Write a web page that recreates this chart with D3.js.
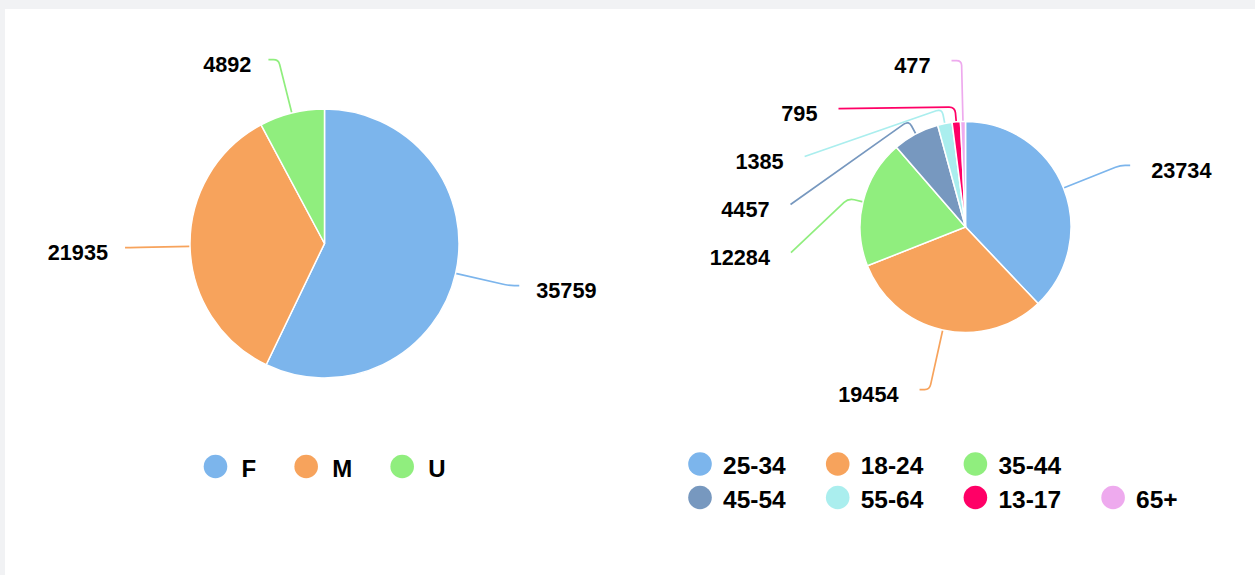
<!DOCTYPE html>
<html>
<head>
<meta charset="utf-8">
<script src="https://cdn.jsdelivr.net/npm/d3@7"></script>
<style>
  body { margin: 0; background: #f1f2f4; overflow: hidden; }
  svg { display: block; }
  text { font-family: "Liberation Sans", Arial, sans-serif; font-weight: bold; fill: #000; }
</style>
</head>
<body>
<div id="myDataVis"></div>
<script>
// gender split
let genderLabels = ["F", "M", "U"];
let genderValues = [35759, 21935, 4892];

// age split
let ageLabels = ["25-34", "18-24", "35-44", "45-54", "55-64", "13-17", "65+"];
let ageValues = [23734, 19454, 12284, 4457, 1385, 795, 477];

let genderColors = ["#7cb5ec", "#f7a35c", "#90ee7e"];
let ageColors = ["#7cb5ec", "#f7a35c", "#90ee7e", "#7798bf", "#aaeeee", "#ff0066", "#eeaaee"];

let width = 1255;
let height = 575;
let svg;

document.addEventListener('DOMContentLoaded', function () {
    svg = d3.select("#myDataVis").append("svg").attr("width", width).attr("height", height);

    // page background + white card
    svg.append("rect").attr("width", width).attr("height", height).attr("fill", "#f1f2f4");
    svg.append("rect").attr("x", 5).attr("y", 9).attr("width", width - 5).attr("height", height - 9).attr("fill", "#fff");

    drawPie({labels: genderLabels, values: genderValues, colors: genderColors,
             cx: 324.5, cy: 243.5, r: 134.5, len1: 55, stub: 15, len2: 10, gap: 48, textGap: 17});
    drawPie({labels: ageLabels, values: ageValues, colors: ageColors,
             cx: 965.5, cy: 227, r: 105.5, len1: 61, stub: 15, len2: 10, gap: 48, textGap: 21});

    drawRowLegend(genderLabels, genderColors, 324.5, 466.5);
    drawGridLegend(ageLabels, ageColors, 700, 464, 137.7, 33.5, 3);
});

function drawPie(cfg) {
    let color = d3.scaleOrdinal().domain(cfg.labels).range(cfg.colors);
    let rows = cfg.labels.map(function(l, i) { return {label: l, value: cfg.values[i]}; });
    let arcs = d3.pie().sort(null).value(function(d) { return d.value; })(rows);
    let arc = d3.arc().innerRadius(0).outerRadius(cfg.r);

    let g = svg.append("g");

    let items = layoutLabels(arcs, cfg);

    g.selectAll(".connector")
        .data(items)
        .enter().append("path")
        .attr("class", "connector")
        .attr("d", function(d) { return connectorPath(d.points); })
        .attr("fill", "none")
        .attr("stroke", function(d) { return color(d.label); })
        .attr("stroke-width", 1.7);

    g.append("g").attr("transform", `translate(${cfg.cx}, ${cfg.cy})`)
        .selectAll("path")
        .data(arcs)
        .enter().append("path")
        .attr("d", arc)
        .attr("fill", function(d) { return color(d.data.label); })
        .attr("stroke", "#fff")
        .attr("stroke-width", 1.5);

    g.selectAll(".lbl")
        .data(items)
        .enter().append("text")
        .attr("class", "lbl")
        .attr("x", function(d) { return d.textX; })
        .attr("y", function(d) { return d.y + 12.5; })
        .attr("text-anchor", function(d) { return d.side > 0 ? "start" : "end"; })
        .style("font-size", "21.7px")
        .text(function(d) { return d.value; });
}

// place labels on a circle around the pie and push overlapping ones down
function layoutLabels(arcs, cfg) {
    let R = cfg.r + cfg.len1;
    let items = arcs.map(function(d) {
        let mid = (d.startAngle + d.endAngle) / 2;
        return {label: d.data.label, value: d.data.value, mid: mid,
                side: Math.sin(mid) >= 0 ? 1 : -1,
                y0: cfg.cy - R * Math.cos(mid)};
    });
    [1, -1].forEach(function(side) {
        let list = items.filter(function(d) { return d.side == side; })
                        .sort(function(a, b) { return a.y0 - b.y0; });
        let prev = -Infinity;
        list.forEach(function(d) {
            d.y = Math.max(d.y0, prev + cfg.gap);
            prev = d.y;
        });
    });
    items.forEach(function(d) {
        let p0 = [cfg.cx + cfg.r * Math.sin(d.mid), cfg.cy - cfg.r * Math.cos(d.mid)];
        let shifted = d.y - d.y0 > 1;
        let dy = d.y - cfg.cy;
        let dx = Math.sqrt(Math.max(0, R * R - dy * dy));
        let p2 = [cfg.cx + d.side * (dx + cfg.len2), d.y];
        let rr = shifted ? cfg.r + cfg.stub : R;
        let p1 = [cfg.cx + rr * Math.sin(d.mid), shifted ? cfg.cy - rr * Math.cos(d.mid) : d.y];
        d.points = [p0, p1, p2];
        d.textX = p2[0] + d.side * cfg.textGap;
    });
    return items;
}

function connectorPath(pts) {
    let a = pts[0], b = pts[1], c = pts[2];
    let l1 = Math.hypot(b[0] - a[0], b[1] - a[1]) || 1;
    let l2 = Math.hypot(c[0] - b[0], c[1] - b[1]) || 1;
    let k = Math.min(6, l1 / 2, l2 / 2);
    let s = [b[0] + (a[0] - b[0]) * k / l1, b[1] + (a[1] - b[1]) * k / l1];
    let e = [b[0] + (c[0] - b[0]) * k / l2, b[1] + (c[1] - b[1]) * k / l2];
    return `M${a}L${s}Q${b} ${e}L${c}`;
}

// single row legend, centred on cx
function drawRowLegend(labels, colors, cx, cy) {
    let lg = svg.append("g");
    let x = 0;
    labels.forEach(function(l, i) {
        lg.append("circle").attr("cx", x + 12).attr("cy", 0).attr("r", 11.8).attr("fill", colors[i]);
        let t = lg.append("text").attr("x", x + 38).attr("y", 0).attr("dy", "0.42em")
            .style("font-size", "24px").text(l);
        x += 38 + t.node().getComputedTextLength() + 38;
    });
    x -= 38;
    lg.attr("transform", `translate(${cx - x / 2}, ${cy})`);
}

// legend on a fixed column grid, wrapping after `firstRow` items
function drawGridLegend(labels, colors, x0, y0, colW, rowH, firstRow) {
    let lg = svg.append("g");
    labels.forEach(function(l, i) {
        let col = i < firstRow ? i : i - firstRow;
        let row = i < firstRow ? 0 : 1;
        let x = x0 + col * colW, y = y0 + row * rowH;
        lg.append("circle").attr("cx", x).attr("cy", y).attr("r", 11.8).attr("fill", colors[i]);
        lg.append("text").attr("x", x + 23).attr("y", y).attr("dy", "0.42em")
            .style("font-size", "24.5px").text(l);
    });
}
</script>
</body>
</html>
